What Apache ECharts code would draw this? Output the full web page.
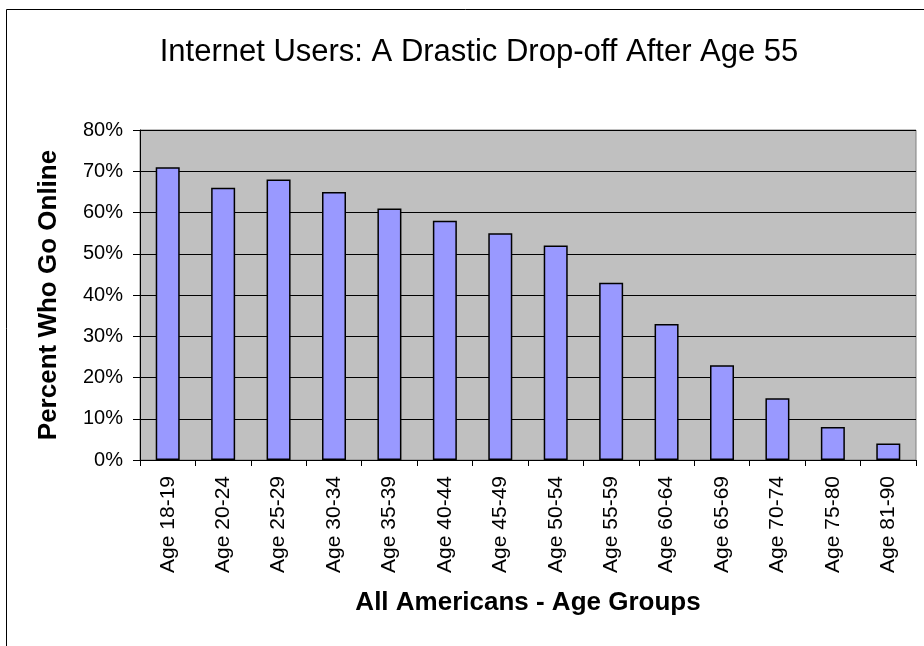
<!DOCTYPE html>
<html>
<head>
<meta charset="utf-8">
<script src="https://cdn.jsdelivr.net/npm/echarts@6/dist/echarts.min.js"></script>
<style>
  html, body { margin: 0; padding: 0; background: #fff; }
  #chart { width: 924px; height: 646px; }
</style>
</head>
<body>
<div id="chart"></div>
<script>
const ageGroups = ['Age 18-19', 'Age 20-24', 'Age 25-29', 'Age 30-34', 'Age 35-39', 'Age 40-44', 'Age 45-49',
  'Age 50-54', 'Age 55-59', 'Age 60-64', 'Age 65-69', 'Age 70-74', 'Age 75-80', 'Age 81-90']
const percentOnline = [71, 66, 68, 65, 61, 58, 55, 52, 43, 33, 23, 15, 8, 4]
const yTicks = [0, 10, 20, 30, 40, 50, 60, 70, 80]

const chart = echarts.init(document.getElementById('chart'))
chart.setOption({
  animation: false,
  title: {
    text: 'Internet Users: A Drastic Drop-off After Age 55',
    left: 474,
    top: 32,
    textAlign: 'center',
    textStyle: { fontFamily: 'Liberation Sans, Arial', fontSize: 31, fontWeight: 'normal', color: '#000' }
  },
  graphic: [
    { type: 'rect', left: 4, top: 7, shape: { width: 940, height: 660 }, style: { fill: 'none', stroke: '#000', lineWidth: 1 }, z: -10 }
  ],
  grid: {
    left: 140, right: 8, top: 130, bottom: 186,
    show: true, backgroundColor: '#c0c0c0', borderColor: '#808080', borderWidth: 1
  },
  xAxis: {
    type: 'category',
    data: ageGroups,
    name: 'All Americans - Age Groups',
    nameLocation: 'middle',
    nameGap: 130,
    nameTextStyle: { fontFamily: 'Liberation Sans, Arial', fontSize: 26, fontWeight: 'bold', color: '#000' },
    axisLine: { lineStyle: { color: '#000', width: 1 } },
    axisTick: { show: true, length: 6, lineStyle: { color: '#000' } },
    axisLabel: { rotate: 90, margin: 16, fontFamily: 'Liberation Sans, Arial', fontSize: 21, color: '#000' }
  },
  yAxis: {
    type: 'value',
    min: 0, max: 80, interval: 10,
    name: 'Percent Who Go Online',
    nameLocation: 'middle',
    nameGap: 78,
    nameTextStyle: { fontFamily: 'Liberation Sans, Arial', fontSize: 26, fontWeight: 'bold', color: '#000' },
    axisLine: { show: true, lineStyle: { color: '#000', width: 1 } },
    axisTick: { show: true, length: 7, lineStyle: { color: '#000' } },
    splitLine: { lineStyle: { color: '#000', width: 1 } },
    axisLabel: {
      margin: 17, fontFamily: 'Liberation Sans, Arial', fontSize: 20, color: '#000',
      customValues: yTicks,
      formatter: v => v + '%'
    }
  },
  series: [{
    type: 'bar',
    data: percentOnline,
    barWidth: 24,
    itemStyle: { color: '#9999ff', borderColor: '#000', borderWidth: 1.5 }
  }]
})
</script>
</body>
</html>
